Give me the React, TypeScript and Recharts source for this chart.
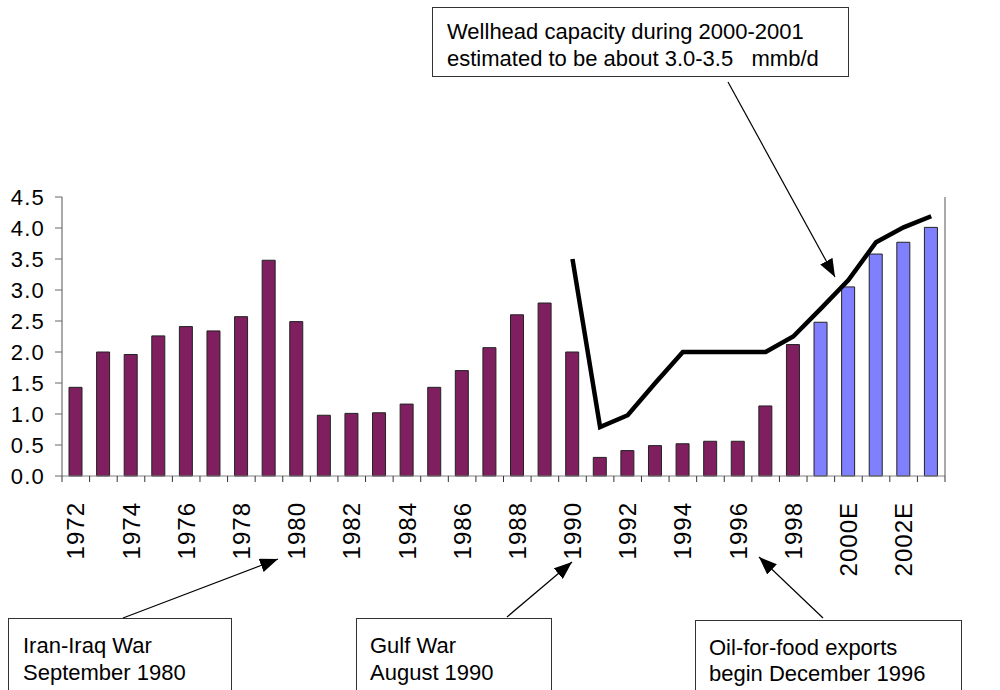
import React from 'react';
import { ComposedChart, Bar, Line, XAxis, YAxis, Cell } from 'recharts';

// ─── Data ─────────────────────────────────────────────────────────────────────

const YEARS = [
  '1972', '1973', '1974', '1975', '1976', '1977', '1978', '1979', '1980',
  '1981', '1982', '1983', '1984', '1985', '1986', '1987', '1988', '1989',
  '1990', '1991', '1992', '1993', '1994', '1995', '1996', '1997', '1998',
  '1999', '2000E', '2001E', '2002E', '2003E',
];

// Crude oil production, million barrels per day (1972-1998)
const ACTUAL_OUTPUT = [
  1.43, 2.0, 1.96, 2.26, 2.41, 2.34, 2.57, 3.48, 2.49,
  0.98, 1.01, 1.02, 1.16, 1.43, 1.7, 2.07, 2.6, 2.79,
  2.0, 0.3, 0.41, 0.49, 0.52, 0.56, 0.56, 1.13, 2.12,
];

// Projected production (1999-2003E)
const PROJECTED_OUTPUT = [2.48, 3.05, 3.58, 3.77, 4.01];

// Capacity line, starting 1990
const CAPACITY_START = '1990';
const CAPACITY = [3.5, 0.79, 0.98, 1.5, 2.0, 2.0, 2.0, 2.0, 2.25, 2.7, 3.16, 3.77, 4.01, 4.19];

const Y_TICKS = [0, 0.5, 1, 1.5, 2, 2.5, 3, 3.5, 4, 4.5];

// ─── Layout ───────────────────────────────────────────────────────────────────

const CHART_W = 1000;
const CHART_H = 690;
const LEFT_AXIS_W = 62;
const RIGHT_AXIS_W = 55;
const TOP = 197;
const X_AXIS_H = 214;
const BAND = (CHART_W - LEFT_AXIS_W - RIGHT_AXIS_W) / YEARS.length;

const FONT = '"Liberation Sans", Arial, sans-serif';
const PURPLE = '#7f1f5f';
const BLUE = '#8080ff';

const capStart = YEARS.indexOf(CAPACITY_START);
const chartData = YEARS.map((year, i) => ({
  year,
  output: i < ACTUAL_OUTPUT.length ? ACTUAL_OUTPUT[i] : PROJECTED_OUTPUT[i - ACTUAL_OUTPUT.length],
  projected: i >= ACTUAL_OUTPUT.length,
  capacity: i >= capStart ? CAPACITY[i - capStart] : null,
}));

// ─── X axis tick: boundary marks + every other year, rotated ────────────────

function YearTick({ x, y, payload, index }: any) {
  const last = index === YEARS.length - 1;
  return (
    <g>
      <line x1={x - BAND / 2} x2={x - BAND / 2} y1={y - 6} y2={y} stroke="#333" />
      {last && <line x1={x + BAND / 2} x2={x + BAND / 2} y1={y - 6} y2={y} stroke="#333" />}
      {index % 2 === 0 && (
        <text
          x={x}
          y={y + 20}
          transform={`rotate(-90 ${x} ${y + 20})`}
          textAnchor="end"
          dy="0.36em"
          fontSize={24}
          letterSpacing={1}
          fill="#000"
        >
          {payload.value}
        </text>
      )}
    </g>
  );
}

// ─── Callouts ─────────────────────────────────────────────────────────────────

const NOTES = [
  { x: 432, y: 7, w: 416, h: 69, tx: 447, lines: ['Wellhead capacity during 2000-2001', 'estimated to be about 3.0-3.5   mmb/d'], base: [39, 66] },
  { x: 8, y: 618, w: 223, h: 90, tx: 23, lines: ['Iran-Iraq War', 'September 1980'], base: [653, 680] },
  { x: 356, y: 618, w: 195, h: 90, tx: 370, lines: ['Gulf War', 'August 1990'], base: [653, 680] },
  { x: 695, y: 620, w: 266, h: 90, tx: 709, lines: ['Oil-for-food exports', 'begin December 1996'], base: [655, 681] },
];

const ARROWS = [
  [728, 82, 835, 277],
  [123, 618, 278, 559],
  [507, 617, 572, 562],
  [823, 618, 759, 557],
];

function Callouts() {
  return (
    <svg
      width={CHART_W}
      height={CHART_H}
      style={{ position: 'absolute', left: 0, top: 0, pointerEvents: 'none' }}
    >
      <defs>
        <marker id="head" markerUnits="userSpaceOnUse" markerWidth={18} markerHeight={14} refX={18} refY={7} orient="auto">
          <path d="M0,0 L18,7 L0,14 z" fill="#000" />
        </marker>
      </defs>
      {NOTES.map((n) => (
        <g key={n.lines[0]}>
          <rect x={n.x + 0.5} y={n.y + 0.5} width={n.w} height={n.h} fill="#fff" stroke="#333" />
          {n.lines.map((t, i) => (
            <text key={t} x={n.tx} y={n.base[i]} fontSize={22} fill="#000" style={{ whiteSpace: 'pre' }}>
              {t}
            </text>
          ))}
        </g>
      ))}
      {ARROWS.map(([x1, y1, x2, y2], i) => (
        <line key={i} x1={x1} y1={y1} x2={x2} y2={y2} stroke="#000" strokeWidth={1.2} markerEnd="url(#head)" />
      ))}
    </svg>
  );
}

// ─── Chart ────────────────────────────────────────────────────────────────────

export default function App() {
  const yTick = { fill: '#000', fontSize: 22, letterSpacing: 1.2 };
  return (
    <div
      style={{
        position: 'absolute',
        left: 0,
        top: 0,
        width: CHART_W,
        height: CHART_H,
        background: '#fff',
        fontFamily: FONT,
      }}
    >
      <ComposedChart
        width={CHART_W}
        height={CHART_H}
        data={chartData}
        margin={{ top: TOP, right: 0, bottom: 0, left: 0 }}
      >
        <XAxis
          dataKey="year"
          interval={0}
          height={X_AXIS_H}
          tickLine={false}
          tickSize={6}
          tickMargin={0}
          axisLine={{ stroke: '#808080' }}
          tick={<YearTick />}
        />
        <YAxis
          yAxisId="left"
          domain={[0, 4.5]}
          ticks={Y_TICKS}
          interval={0}
          width={LEFT_AXIS_W}
          tickFormatter={(v: number) => v.toFixed(1)}
          tick={yTick}
          tickSize={7}
          tickMargin={10}
          axisLine={{ stroke: '#555' }}
          tickLine={{ stroke: '#666' }}
        />
        <YAxis
          yAxisId="right"
          orientation="right"
          domain={[0, 4.5]}
          ticks={Y_TICKS}
          interval={0}
          width={RIGHT_AXIS_W}
          tickFormatter={(v: number) => v.toFixed(1)}
          tick={yTick}
          tickSize={7}
          tickMargin={10}
          axisLine={{ stroke: '#555' }}
          tickLine={{ stroke: '#666' }}
        />
        <Bar yAxisId="left" dataKey="output" barSize={13} stroke="#222" strokeWidth={1} isAnimationActive={false}>
          {chartData.map((d) => (
            <Cell key={d.year} fill={d.projected ? BLUE : PURPLE} />
          ))}
        </Bar>
        <Line
          yAxisId="left"
          type="linear"
          dataKey="capacity"
          stroke="#000"
          strokeWidth={4.5}
          dot={false}
          activeDot={false}
          isAnimationActive={false}
        />
      </ComposedChart>
      <Callouts />
    </div>
  );
}
